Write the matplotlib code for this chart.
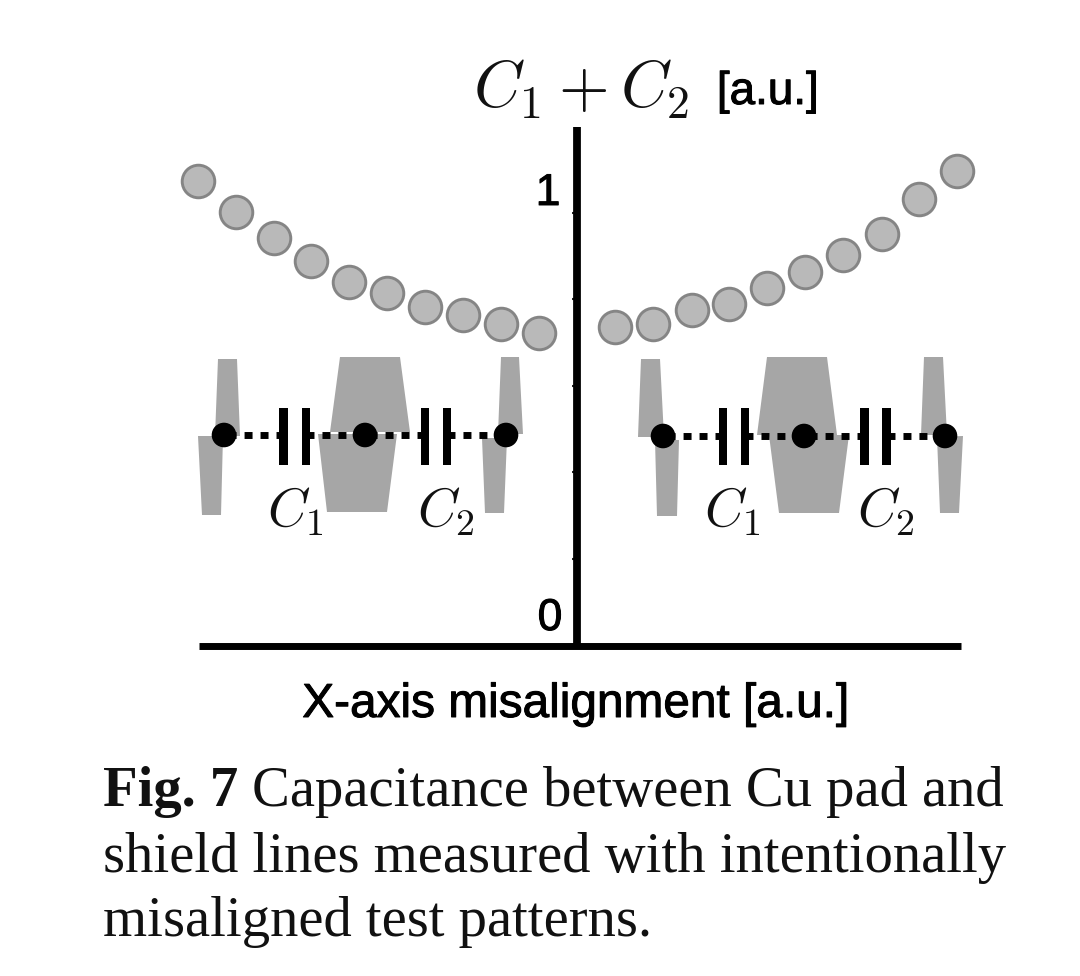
import numpy as np
import matplotlib
matplotlib.use('Agg')
import matplotlib.pyplot as plt
import matplotlib.patheffects as pe
from matplotlib.patches import Polygon, Circle, Rectangle

plt.rcParams['mathtext.fontset'] = 'cm'

# values
x_left = [-0.993, -0.893, -0.794, -0.696, -0.596, -0.497, -0.398, -0.298, -0.199, -0.099]
y_left = [1.072, 1.001, 0.942, 0.889, 0.840, 0.815, 0.782, 0.763, 0.742, 0.722]
x_right = [0.099, 0.199, 0.300, 0.398, 0.497, 0.598, 0.697, 0.798, 0.896, 0.996]
y_right = [0.736, 0.743, 0.775, 0.789, 0.826, 0.863, 0.902, 0.950, 1.032, 1.096]
y_ticks = [0, 0.2, 0.4, 0.6, 0.8, 1.0]

W, H = 1080, 976
fig = plt.figure(figsize=(W / 100, H / 100), dpi=100, facecolor='white')

# main axes, spines are the thick black axis lines
ax = fig.add_axes([199 / W, (H - 645.5) / H, (961 - 199) / W, (645.5 - 127) / H])
ax.set_xlim((199 - 577) / 382, (961 - 577) / 382)
ax.set_ylim(0, (645.5 - 127) / 433)
ax.patch.set_alpha(0)
for s in ['top', 'right']:
    ax.spines[s].set_visible(False)
ax.spines['left'].set_position(('data', 0))
ax.spines['left'].set_linewidth(5.6)
ax.spines['bottom'].set_linewidth(5.0)
ax.spines['left'].set_capstyle('butt')
ax.spines['bottom'].set_capstyle('butt')
ax.set_xticks([])
ax.set_yticks(y_ticks)
ax.set_yticklabels([])
ax.tick_params(axis='y', length=3.5, width=1.5, color='#222222')

x_all = x_left + x_right
y_all = y_left + y_right
ax.scatter(x_all, y_all, s=550, facecolor='#b9b9b9', edgecolor='#858585', linewidth=2.1,
           clip_on=False, zorder=5)

# overlay in pixel coordinates for the schematic and the text
ov = fig.add_axes([0, 0, 1, 1])
ov.set_xlim(0, W)
ov.set_ylim(H, 0)
ov.axis('off')
ov.patch.set_alpha(0)

PAD = '#a6a6a6'
pads = [
    # left group
    [(218, 359), (237, 359), (240, 436), (215, 436)],
    [(198, 436), (223, 436), (221, 515), (202, 515)],
    [(340, 357), (400, 357), (410, 432), (330, 432)],
    [(318, 434), (397, 434), (387, 512), (327, 512)],
    [(501, 357), (519, 357), (523, 434), (498, 434)],
    [(482, 438), (507, 438), (504, 513), (485, 513)],
    # right group
    [(641, 359), (660, 359), (664, 437), (638, 437)],
    [(655, 440), (679, 440), (677, 516), (657, 516)],
    [(767, 357), (827, 357), (837, 435), (757, 435)],
    [(769, 435), (849, 435), (839, 513), (779, 513)],
    [(924, 357), (943, 357), (947, 435), (921, 435)],
    [(937, 437), (963, 436), (959, 513), (940, 513)],
]
for p in pads:
    ov.add_patch(Polygon(p, closed=True, facecolor=PAD, edgecolor='none'))


def cap_group(dots, plates, yc):
    # dashed wires are drawn starting at the plates so the stubs touch them
    for d, pl in [(dots[0], plates[0][0]), (dots[1], plates[0][1]),
                  (dots[1], plates[1][0]), (dots[2], plates[1][1])]:
        ov.plot([pl, d], [yc, yc], color='black', lw=5.0,
                dashes=(1.15, 1.15), dash_capstyle='butt', zorder=3)
    for pair in plates:
        for px in pair:
            ov.add_patch(Rectangle((px - 4.3, 408), 8.6, 56.5, color='black', lw=0, zorder=4))
    for d in dots:
        ov.add_patch(Circle((d, yc), 12.3, color='black', lw=0, zorder=4))


cap_group([224, 365, 506], [(283.5, 306), (425, 447)], 435)
cap_group([663, 804, 945], [(723, 745), (864.5, 886.5)], 436)

for xx, lab in [(295, '$C_1$'), (446, '$C_2$'), (732, '$C_1$'), (886, '$C_2$')]:
    ov.text(xx, 527, lab, fontsize=39, ha='center', va='baseline', color='#111111')

# title and axis text, the sans labels look a bit heavy in the scan
heavy = [pe.withStroke(linewidth=0.7, foreground='black')]
ov.text(581, 108, '$C_1 + C_2$', fontsize=47, ha='center', va='baseline', color='#111111')
ov.text(768, 104, '[a.u.]', fontsize=33, ha='center', va='baseline', family='Liberation Sans',
        path_effects=heavy)
ov.text(548, 205, '1', fontsize=32, ha='center', va='baseline', family='Liberation Sans',
        path_effects=heavy)
ov.text(550, 630, '0', fontsize=32, ha='center', va='baseline', family='Liberation Sans',
        path_effects=heavy)
ov.text(575.5, 717, 'X-axis misalignment [a.u.]', fontsize=34.4, ha='center', va='baseline',
        family='Liberation Sans', path_effects=heavy)

# caption
CAP = dict(fontsize=40.8, va='baseline', family='Liberation Serif', color='#111111')
ov.text(103, 806, 'Fig. 7', fontweight='bold', **CAP)
ov.text(252, 806, 'Capacitance between Cu pad and', **CAP)
ov.text(103, 872, 'shield lines measured with intentionally', **CAP)
ov.text(103, 936, 'misaligned test patterns.', **CAP)

fig.savefig('out.png', dpi=100)
